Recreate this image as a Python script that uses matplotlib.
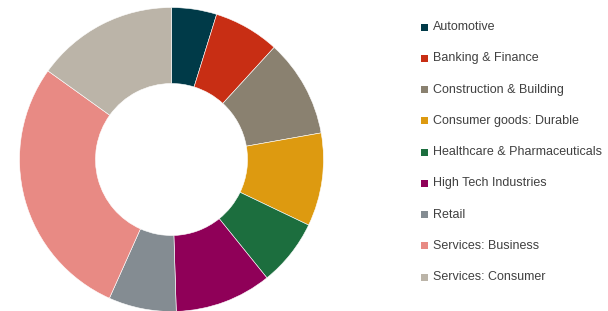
import matplotlib
matplotlib.use('Agg')
import matplotlib.pyplot as plt
from matplotlib.patches import Rectangle

sectors = ['Automotive', 'Banking & Finance', 'Construction & Building',
           'Consumer goods: Durable', 'Healthcare & Pharmaceuticals',
           'High Tech Industries', 'Retail', 'Services: Business',
           'Services: Consumer']
shares = [4.8, 7.0, 10.4, 9.9, 7.1, 10.3, 7.2, 28.2, 15.1]
colors = ['#003a48', '#c82e14', '#8a8170', '#dd9a10', '#1c6e3e',
          '#8f0058', '#848c92', '#e88a84', '#bbb4a8']

plt.rcParams['font.family'] = ['Liberation Sans', 'DejaVu Sans']

W, H = 608, 311
fig = plt.figure(figsize=(W / 100, H / 100), dpi=100)
ax = fig.add_axes([19.5 / W, -0.5 / H, 304 / W, 304 / H])
wedges, _ = ax.pie(shares, colors=colors, startangle=90, counterclock=False,
                   radius=1.0, wedgeprops=dict(width=0.5, linewidth=0.4, edgecolor='white'))
ax.set_xlim(-1, 1)
ax.set_ylim(-1, 1)
ax.set_aspect('equal')

# legend drawn by hand so the row spacing matches
for i, (name, c) in enumerate(zip(sectors, colors)):
    y = 27 + i * 31.25
    fig.patches.append(Rectangle(((421) / W, 1 - (y + 3.5) / H), 7 / W, 7 / H,
                                 transform=fig.transFigure, facecolor=c, edgecolor='none'))
    fig.text(433 / W, 1 - y / H, name, fontsize=9, color='#404040', va='center', ha='left')

fig.savefig('out.png', dpi=100)
